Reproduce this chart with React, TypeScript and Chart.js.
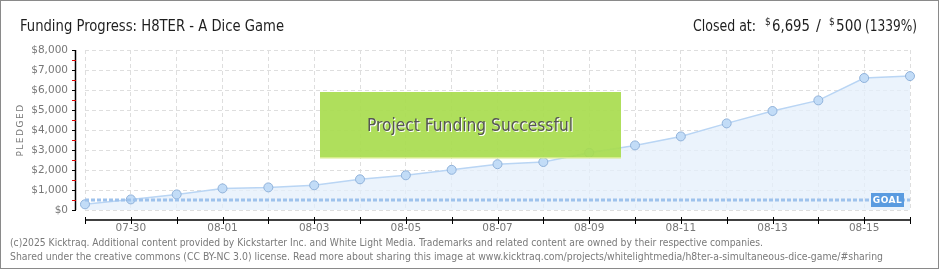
import React, { useEffect, useRef } from "react";
import { Chart, registerables } from "chart.js";

Chart.register(...registerables);

const dates = ["07-29","07-30","07-31","08-01","08-02","08-03","08-04","08-05","08-06","08-07","08-08","08-09","08-10","08-11","08-12","08-13","08-14","08-15","08-16"];
const pledged = [285, 530, 780, 1080, 1130, 1235, 1535, 1735, 2010, 2290, 2400, 2860, 3230, 3680, 4330, 4950, 5480, 6600, 6695];
const goal = 500;
const goalLine = dates.map(() => goal);
const yMax = 8000;
const yStep = 500;

const TITLE = "Funding Progress: H8TER - A Dice Game";
const FOOT1 = "(c)2025 Kicktraq. Additional content provided by Kickstarter Inc. and White Light Media. Trademarks and related content are owned by their respective companies.";
const FOOT2 = "Shared under the creative commons (CC BY-NC 3.0) license. Read more about sharing this image at www.kicktraq.com/projects/whitelightmedia/h8ter-a-simultaneous-dice-game/#sharing";

const overlay = {
  id: "overlay",
  afterDraw(chart: any) {
    const ctx = chart.ctx as CanvasRenderingContext2D;
    const xs = chart.scales.x;
    const ys = chart.scales.y;
    const area = chart.chartArea;
    ctx.save();
    // border
    ctx.strokeStyle = "#8a8a8a";
    ctx.lineWidth = 1;
    ctx.strokeRect(0.5, 0.5, 938, 268);

    // title
    ctx.fillStyle = "#1e1e1e";
    ctx.textBaseline = "alphabetic";
    ctx.textAlign = "left";
    ctx.font = "16px 'DejaVu Sans Condensed'";
    ctx.fillText(TITLE, 20, 31, 264);
    ctx.fillText("Closed at:", 693, 31, 63);
    ctx.fillText("6,695", 772, 31, 38);
    ctx.fillText("/", 816, 31, 6);
    ctx.fillText("500", 836, 31, 26);
    ctx.fillText("(1339%)", 865, 31, 52);
    ctx.font = "10px 'DejaVu Sans Condensed'";
    ctx.fillText("$", 765, 25, 6);
    ctx.fillText("$", 829, 25, 6);

    // footer
    ctx.fillStyle = "#7a7a7a";
    ctx.font = "10.5px 'DejaVu Sans Condensed'";
    ctx.textBaseline = "middle";
    ctx.fillText(FOOT1, 10, 243, 753);
    ctx.fillText(FOOT2, 10, 257, 873);

    // y axis
    ctx.strokeStyle = "#000";
    ctx.lineWidth = 1.5;
    ctx.beginPath();
    ctx.moveTo(75.5, ys.getPixelForValue(yMax));
    ctx.lineTo(75.5, ys.getPixelForValue(0));
    ctx.stroke();
    for (let v = 0; v <= yMax; v += yStep) {
      const y = Math.round(ys.getPixelForValue(v)) + 0.5;
      ctx.strokeStyle = v % 1000 === 0 ? "#000" : "#e00000";
      ctx.lineWidth = 1;
      ctx.beginPath();
      ctx.moveTo(72, y);
      ctx.lineTo(76, y);
      ctx.stroke();
    }
    // x axis
    ctx.strokeStyle = "#000";
    ctx.lineWidth = 1.5;
    ctx.beginPath();
    ctx.moveTo(xs.getPixelForValue(0), 220);
    ctx.lineTo(xs.getPixelForValue(dates.length - 1), 220);
    ctx.stroke();
    ctx.lineWidth = 1;
    dates.forEach((_, i) => {
      const x = Math.round(xs.getPixelForValue(i)) + 0.5;
      ctx.beginPath();
      ctx.moveTo(x, 217);
      ctx.lineTo(x, 224);
      ctx.stroke();
    });

    // y title
    ctx.save();
    ctx.translate(21, (area.top + area.bottom) / 2);
    ctx.rotate(-Math.PI / 2);
    ctx.fillStyle = "#777";
    ctx.font = "9px 'DejaVu Sans'";
    (ctx as any).letterSpacing = "1.5px";
    ctx.textAlign = "center";
    ctx.textBaseline = "middle";
    ctx.fillText("PLEDGED", 0, 0);
    ctx.restore();

    // success box
    ctx.globalAlpha = 0.92;
    ctx.fillStyle = "#a8dc4e";
    ctx.fillRect(320, 92, 301, 65);
    ctx.globalAlpha = 1;
    ctx.fillStyle = "#d6ec8a";
    ctx.fillRect(320, 157, 301, 1.5);
    ctx.font = "18px 'DejaVu Sans Condensed'";
    ctx.textAlign = "center";
    ctx.textBaseline = "middle";
    ctx.fillStyle = "#ffffff";
    ctx.fillText("Project Funding Successful", 471, 127, 206);
    ctx.fillStyle = "#555555";
    ctx.fillText("Project Funding Successful", 470, 126, 206);

    // goal label
    const gy = ys.getPixelForValue(goal);
    ctx.fillStyle = "#5a9be0";
    ctx.fillRect(871, gy - 7, 33, 14);
    ctx.fillStyle = "#fff";
    ctx.font = "bold 9px 'DejaVu Sans'";
    (ctx as any).letterSpacing = "0.5px";
    ctx.fillText("GOAL", 887.5, gy + 0.5, 30);
    ctx.restore();
  },
};

export default function App() {
  const ref = useRef<HTMLCanvasElement>(null);
  useEffect(() => {
    document.body.style.margin = "0";
    const chart = new Chart(ref.current!, {
      type: "line",
      data: {
        labels: dates,
        datasets: [
          {
            label: "Goal",
            data: goalLine,
            borderColor: "#9ec2ec",
            borderWidth: 3,
            borderDash: [4, 2],
            pointRadius: 0,
            fill: false,
            order: 0,
          },
          {
            label: "Pledged",
            data: pledged,
            borderColor: "#b9d5f4",
            borderWidth: 1.5,
            backgroundColor: "rgba(228,239,251,0.75)",
            fill: "origin",
            pointRadius: 4.5,
            pointBackgroundColor: "#c2dcf7",
            pointBorderColor: "#90b2da",
            pointBorderWidth: 1,
            tension: 0,
            order: 1,
          },
        ],
      },
      options: {
        animation: false,
        responsive: false,
        devicePixelRatio: 1,
        layout: { padding: { top: 50, right: 30, bottom: 30, left: 0 } },
        plugins: { legend: { display: false }, tooltip: { enabled: false }, title: { display: false } },
        scales: {
          x: {
            type: "category",
            offset: false,
            afterFit: (s: any) => { s.height = 30; },
            grid: { color: "#dedede", drawTicks: false },
            border: { display: false, dash: [4, 3] },
            ticks: {
              autoSkip: false,
              maxRotation: 0,
              padding: 12,
              color: "#777",
              font: { family: "DejaVu Sans", size: 10.5 },
              callback: (_v: any, i: number) => (i % 2 === 1 ? dates[i] : ""),
            },
          },
          y: {
            min: 0,
            max: yMax,
            afterFit: (s: any) => { s.width = 85; },
            grid: {
              drawTicks: false,
              color: (c: any) => (c.tick && c.tick.value % 1000 === 0 ? "#dedede" : "rgba(0,0,0,0)"),
            },
            border: { display: false, dash: [4, 3] },
            ticks: {
              stepSize: yStep,
              padding: 17,
              color: "#777",
              font: { family: "DejaVu Sans", size: 10.5 },
              callback: (v: any) => (v % 1000 === 0 ? "$" + Number(v).toLocaleString("en-US") : ""),
            },
          },
        },
      },
      plugins: [overlay],
    });
    return () => chart.destroy();
  }, []);
  return (
    <div style={{ width: 940, height: 270, background: "#fff" }}>
      <canvas ref={ref} width={940} height={270} style={{ display: "block", width: 940, height: 270 }} />
    </div>
  );
}
